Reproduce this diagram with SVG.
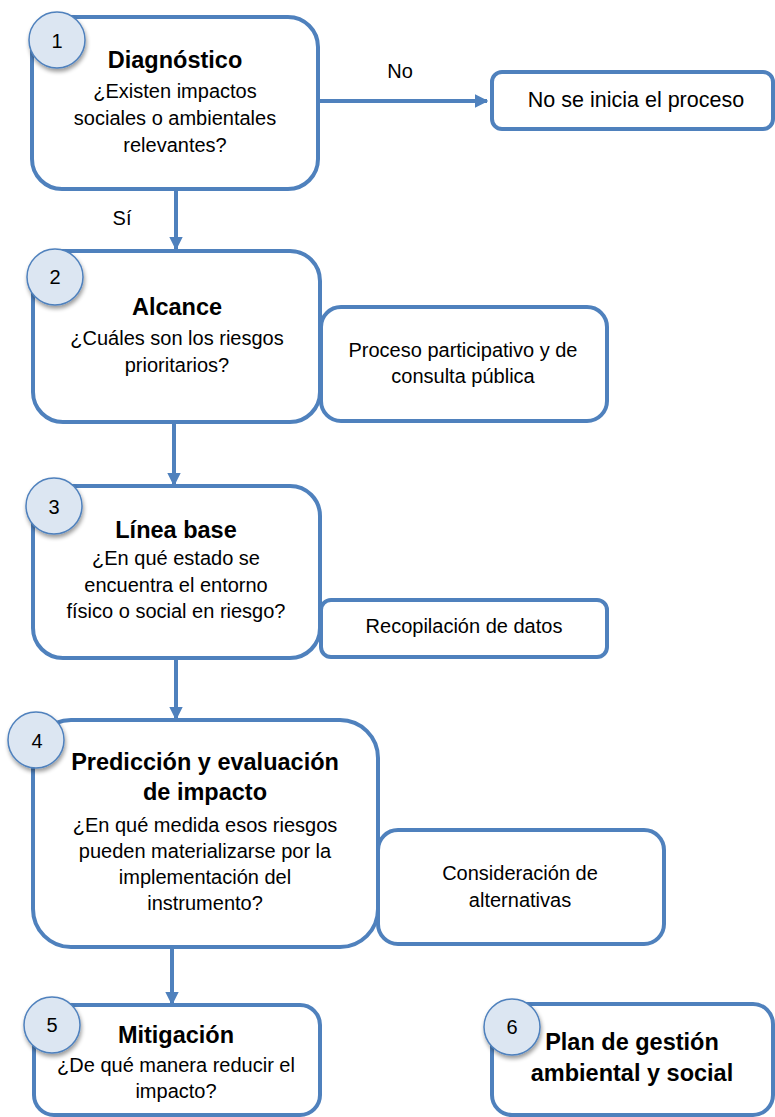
<svg xmlns="http://www.w3.org/2000/svg" width="775" height="1117" viewBox="0 0 775 1117">
<style>
.box{fill:#fff;stroke:#4f81bd;stroke-width:4}
.num{fill:#dce6f2;stroke:#4f81bd;stroke-width:1.5;filter:url(#sh)}
.t{font-family:"Liberation Sans",Arial,sans-serif;fill:#000;text-anchor:middle}
.b{font-weight:bold;font-size:23.5px}
.r{font-size:20px}
.n{font-size:20px}
.c{fill:none;stroke:#4f81bd;stroke-width:4}
</style>
<defs>
<marker id="ah" viewBox="0 0 10 10" refX="9" refY="5" markerWidth="3.4" markerHeight="3.4" orient="auto" markerUnits="strokeWidth">
<path d="M0,0 L10,5 L0,10 Z" fill="#4f81bd"/>
</marker>
<filter id="sh" x="-30%" y="-30%" width="170%" height="170%">
<feGaussianBlur in="SourceAlpha" stdDeviation="2"/>
<feOffset dx="1" dy="3" result="o"/>
<feComponentTransfer><feFuncA type="linear" slope="0.4"/></feComponentTransfer>
<feMerge><feMergeNode/><feMergeNode in="SourceGraphic"/></feMerge>
</filter>
</defs>
<g id="connectors">
<line class="c" x1="318" y1="101" x2="487" y2="101" marker-end="url(#ah)"/>
<line class="c" x1="176" y1="190" x2="176" y2="249" marker-end="url(#ah)"/>
<line class="c" x1="174" y1="423" x2="174" y2="485" marker-end="url(#ah)"/>
<line class="c" x1="176" y1="658" x2="176" y2="719" marker-end="url(#ah)"/>
<line class="c" x1="172" y1="948" x2="172" y2="1004" marker-end="url(#ah)"/>
<text class="t r" x="400" y="78">No</text>
<text class="t r" x="122" y="225">Sí</text>
</g>
<g id="node1">
<rect class="box" x="32" y="17" width="286" height="172" rx="30"/>
<circle class="num" cx="57" cy="40" r="28"/>
<text class="t n" x="57" y="48">1</text>
<text class="t b" x="175" y="68">Diagnóstico</text>
<text class="t r" x="175" y="98">¿Existen impactos</text>
<text class="t r" x="175" y="125">sociales o ambientales</text>
<text class="t r" x="175" y="152">relevantes?</text>
</g>
<g id="node-no">
<rect class="box" x="492" y="72" width="281" height="57" rx="10"/>
<text class="t" x="636" y="107" style="font-size:21.5px">No se inicia el proceso</text>
</g>
<g id="node2">
<rect class="box" x="33" y="251" width="287" height="171" rx="30"/>
<circle class="num" cx="55" cy="277" r="28"/>
<text class="t n" x="55" y="284">2</text>
<text class="t b" x="177" y="315">Alcance</text>
<text class="t r" x="177" y="345">¿Cuáles son los riesgos</text>
<text class="t r" x="177" y="372">prioritarios?</text>
</g>
<g id="node2b">
<rect class="box" x="321" y="307" width="286" height="114" rx="20"/>
<text class="t r" x="463" y="357">Proceso participativo y de</text>
<text class="t r" x="463" y="383">consulta pública</text>
</g>
<g id="node3">
<rect class="box" x="33" y="486" width="287" height="172" rx="30"/>
<circle class="num" cx="54" cy="506" r="28"/>
<text class="t n" x="54" y="514">3</text>
<text class="t b" x="176" y="538">Línea base</text>
<text class="t r" x="176" y="565">¿En qué estado se</text>
<text class="t r" x="176" y="592">encuentra el entorno</text>
<text class="t r" x="176" y="618">físico o social en riesgo?</text>
</g>
<g id="node3b">
<rect class="box" x="321" y="600" width="286" height="57" rx="10"/>
<text class="t r" x="464" y="633">Recopilación de datos</text>
</g>
<g id="node4">
<rect class="box" x="33" y="720" width="345" height="227" rx="38"/>
<circle class="num" cx="36" cy="740" r="28"/>
<text class="t n" x="37" y="748">4</text>
<text class="t b" x="205" y="770">Predicción y evaluación</text>
<text class="t b" x="205" y="800">de impacto</text>
<text class="t r" x="205" y="832">¿En qué medida esos riesgos</text>
<text class="t r" x="205" y="858">pueden materializarse por la</text>
<text class="t r" x="205" y="884">implementación del</text>
<text class="t r" x="205" y="910">instrumento?</text>
</g>
<g id="node4b">
<rect class="box" x="378" y="830" width="286" height="114" rx="20"/>
<text class="t r" x="520" y="880">Consideración de</text>
<text class="t r" x="520" y="907">alternativas</text>
</g>
<g id="node5">
<rect class="box" x="34" y="1005" width="286" height="110" rx="20"/>
<circle class="num" cx="52" cy="1025" r="28"/>
<text class="t n" x="52" y="1032">5</text>
<text class="t b" x="176" y="1043">Mitigación</text>
<text class="t r" x="176" y="1072">¿De qué manera reducir el</text>
<text class="t r" x="176" y="1098">impacto?</text>
</g>
<g id="node6">
<rect class="box" x="492" y="1004" width="281" height="111" rx="20"/>
<circle class="num" cx="512" cy="1027" r="28"/>
<text class="t n" x="512" y="1034">6</text>
<text class="t b" x="632" y="1050">Plan de gestión</text>
<text class="t b" x="632" y="1081">ambiental y social</text>
</g>
</svg>
